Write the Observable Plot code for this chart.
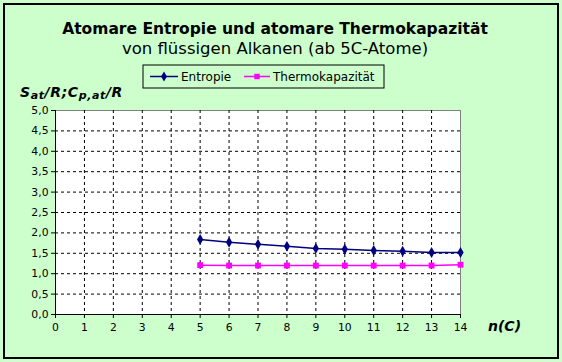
<!DOCTYPE html>
<html>
<head>
<meta charset="utf-8">
<script src="https://cdn.jsdelivr.net/npm/d3@7"></script>
<script src="https://cdn.jsdelivr.net/npm/@observablehq/plot@0.6"></script>
<style>
  html, body { margin: 0; padding: 0; background: #fff; }
  svg { display: block; }
</style>
</head>
<body>
<div id="chart"></div>
<script>
// ---- data ----
const nC = [5, 6, 7, 8, 9, 10, 11, 12, 13, 14];
const entropie = [1.84, 1.77, 1.72, 1.67, 1.62, 1.60, 1.57, 1.55, 1.52, 1.52];
const thermo = [1.21, 1.20, 1.20, 1.20, 1.20, 1.20, 1.20, 1.20, 1.20, 1.22];
const xTicks = [0, 1, 2, 3, 4, 5, 6, 7, 8, 9, 10, 11, 12, 13, 14];
const yTicks = [0, 0.5, 1, 1.5, 2, 2.5, 3, 3.5, 4, 4.5, 5];
const seriesNames = ["Entropie", "Thermokapazität"];
const titleText = "Atomare Entropie und atomare Thermokapazität";
const subtitleText = "von flüssigen Alkanen (ab 5C-Atome)";

const dataE = nC.map((n, i) => ({n, v: entropie[i]}));
const dataT = nC.map((n, i) => ({n, v: thermo[i]}));

const navy = "#000080", magenta = "#FF00FF";
const font = "DejaVu Sans, Verdana, sans-serif";

const svg = Plot.plot({
  width: 562,
  height: 362,
  marginLeft: 55,
  marginRight: 102,
  marginTop: 110,
  marginBottom: 48,
  style: {background: "#CCFFCC", fontFamily: font, fontSize: "10.8px", color: "black"},
  x: {domain: [0, 14]},
  y: {domain: [0, 5]},
  marks: [
    Plot.frame({fill: "white", stroke: "#808080"}),
    Plot.gridX(xTicks.filter(d => d > 0 && d < 14), {stroke: "black", strokeOpacity: 1, strokeDasharray: "3,3"}),
    Plot.gridY(yTicks.filter(d => d > 0 && d < 5), {stroke: "black", strokeOpacity: 1, strokeDasharray: "3,3"}),
    Plot.ruleX([0], {stroke: "black"}),
    Plot.ruleY([0], {stroke: "black"}),
    Plot.axisX({ticks: xTicks, tickSize: 4, tickPadding: 5, tickFormat: d => String(d), label: null}),
    Plot.axisY({ticks: yTicks, tickSize: 4, tickPadding: 3, tickFormat: d => d.toFixed(1).replace(".", ","), label: null}),
    Plot.line(dataE, {x: "n", y: "v", stroke: navy, strokeWidth: 1.5}),
    Plot.dot(dataE, {x: "n", y: "v", symbol: "diamond", fill: navy, stroke: "none", r: 3.3}),
    Plot.line(dataT, {x: "n", y: "v", stroke: magenta, strokeWidth: 1.5}),
    Plot.dot(dataT, {x: "n", y: "v", symbol: "square", fill: magenta, stroke: "none", r: 3.3})
  ]
});

const s = d3.select(svg);
// outer border
s.append("rect").attr("x", 4).attr("y", 4).attr("width", 554).attr("height", 354)
  .attr("fill", "none").attr("stroke", "black").attr("stroke-width", 2);

// titles
s.append("text").attr("x", 275).attr("y", 34).attr("text-anchor", "middle")
  .attr("font-family", font).attr("font-size", 15.5).attr("font-weight", "bold")
  .attr("fill", "black").text(titleText);
s.append("text").attr("x", 275).attr("y", 54).attr("text-anchor", "middle")
  .attr("font-family", font).attr("font-size", 16.5)
  .attr("fill", "black").text(subtitleText);

// y-axis title: S_at/R;C_p,at/R
const yl = s.append("text").attr("x", 20).attr("y", 97).attr("text-anchor", "start")
  .attr("font-family", font).attr("font-size", 14).attr("font-weight", "bold").attr("font-style", "italic")
  .attr("fill", "black").attr("letter-spacing", 0.6);
yl.append("tspan").text("S");
yl.append("tspan").attr("font-size", 11).attr("dy", 2).text("at");
yl.append("tspan").attr("dy", -2).text("/R;C");
yl.append("tspan").attr("font-size", 11).attr("dy", 2).text("p,at");
yl.append("tspan").attr("dy", -2).text("/R");

// x-axis title
s.append("text").attr("x", 488).attr("y", 331).attr("text-anchor", "start")
  .attr("font-family", font).attr("font-size", 14).attr("font-weight", "bold").attr("font-style", "italic")
  .attr("fill", "black").text("n(C)");

// legend
const lg = s.append("g").attr("font-family", font).attr("font-size", 12).attr("fill", "black")
  .attr("text-anchor", "start");
lg.append("rect").attr("x", 143).attr("y", 65).attr("width", 241).attr("height", 23)
  .attr("fill", "none").attr("stroke", "black").attr("stroke-width", 1);
const items = [
  {name: seriesNames[0], color: navy, sym: d3.symbolDiamond, size: 30, x0: 150, x1: 178, tx: 181},
  {name: seriesNames[1], color: magenta, sym: d3.symbolSquare, size: 30, x0: 244, x1: 270, tx: 273}
];
for (const it of items) {
  lg.append("line").attr("x1", it.x0).attr("x2", it.x1).attr("y1", 76.5).attr("y2", 76.5)
    .attr("stroke", it.color).attr("stroke-width", 1.5);
  lg.append("path").attr("d", d3.symbol(it.sym, it.size)())
    .attr("transform", `translate(${(it.x0 + it.x1) / 2},76.5)`).attr("fill", it.color);
  lg.append("text").attr("x", it.tx).attr("y", 81).text(it.name);
}

document.getElementById("chart").appendChild(svg);
</script>
</body>
</html>
